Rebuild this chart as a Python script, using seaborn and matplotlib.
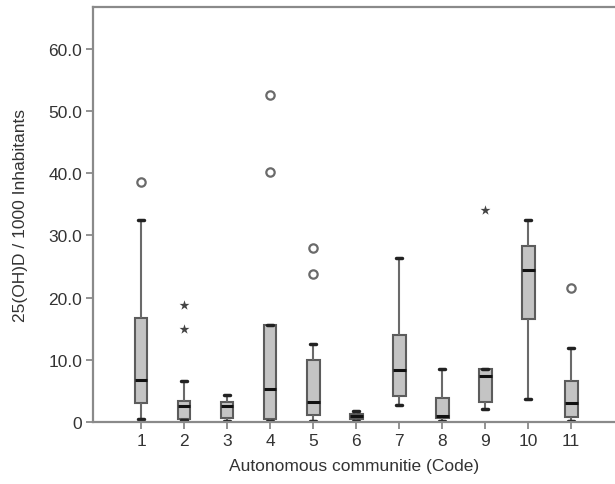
import numpy as np
import pandas as pd
import matplotlib
matplotlib.use("Agg")
import matplotlib.pyplot as plt
import seaborn as sns

# ---- data ----
codes = ["1", "2", "3", "4", "5", "6", "7", "8", "9", "10", "11"]
whisker_low = [0.5, 0.3, 0.2, 0.2, 0.2, 0.1, 2.7, 0.2, 2.1, 3.7, 0.2]
q1 = [3.1, 0.5, 0.6, 0.4, 1.1, 0.5, 4.1, 0.6, 3.2, 16.5, 0.8]
median = [6.7, 2.5, 2.5, 5.3, 3.2, 0.9, 8.4, 0.9, 7.4, 24.5, 3.1]
q3 = [16.7, 3.4, 3.2, 15.5, 10.0, 1.2, 13.9, 3.9, 8.5, 28.3, 6.5]
whisker_high = [32.5, 6.5, 4.4, 15.5, 12.5, 1.7, 26.4, 8.5, 8.5, 32.5, 11.9]

circle_codes = ["1", "4", "4", "5", "5", "11"]
circle_values = [38.5, 52.6, 40.2, 28.0, 23.7, 21.5]
star_codes = ["2", "2", "9"]
star_values = [18.8, 15.0, 34.1]

yticks = [0, 10, 20, 30, 40, 50, 60]
ytick_labels = ["0", "10.0", "20.0", "30.0", "40.0", "50.0", "60.0"]

# build long-form table: five values per group reproduce the five-number summary
rows = []
for c, a, b, m, d, e in zip(codes, whisker_low, q1, median, q3, whisker_high):
    for v in (a, b, m, d, e):
        rows.append({"code": c, "value": v})
df = pd.DataFrame(rows)
df_circ = pd.DataFrame({"code": circle_codes, "value": circle_values})
df_star = pd.DataFrame({"code": star_codes, "value": star_values})

sns.set_style("white")
plt.rcParams["font.family"] = ["Liberation Sans", "DejaVu Sans"]

fig = plt.figure(figsize=(6.15, 4.85), dpi=100)
ax = fig.add_axes([0.152, 0.128, 0.848, 0.8555])

edge = "#5c5c5c"
sns.boxplot(data=df, x="code", y="value", order=codes, whis=(0, 100),
            width=0.3, color="#c4c4c4", linecolor=edge, linewidth=1.5,
            showfliers=False, ax=ax,
            medianprops=dict(color="#111111", linewidth=2.2),
            capprops=dict(color="#222222", linewidth=2.5),
            whiskerprops=dict(color="#6a6a6a", linewidth=1.5))
sns.stripplot(data=df_circ, x="code", y="value", order=codes, jitter=False,
              color="white", edgecolor="#6a6a6a", linewidth=1.6, size=6,
              marker="o", ax=ax, zorder=5)
sns.stripplot(data=df_star, x="code", y="value", order=codes, jitter=False,
              color="#444444", size=7.5, marker="*", linewidth=0, ax=ax, zorder=5)

ax.set_xlim(-1.105, 11.02)
ax.set_ylim(0, 66.7)
ax.set_yticks(yticks)
ax.set_yticklabels(ytick_labels)
ax.set_xticks(range(len(codes)))
ax.set_xticklabels(codes)

for side in ["left", "top", "bottom", "right"]:
    ax.spines[side].set_color("#8a8a8a")
    ax.spines[side].set_linewidth(1.6)
ax.spines["right"].set_visible(False)

ax.tick_params(axis="both", which="major", direction="out", length=5,
               width=1.3, color="#8a8a8a", labelsize=12.5, labelcolor="#333333",
               left=True, bottom=True, pad=3)
ax.set_xlabel("Autonomous communitie (Code)", fontsize=12.5, color="#333333", labelpad=7)
ax.set_ylabel("25(OH)D / 1000 Inhabitants", fontsize=12.5, color="#333333", labelpad=15)

fig.savefig("out.png", dpi=100)
